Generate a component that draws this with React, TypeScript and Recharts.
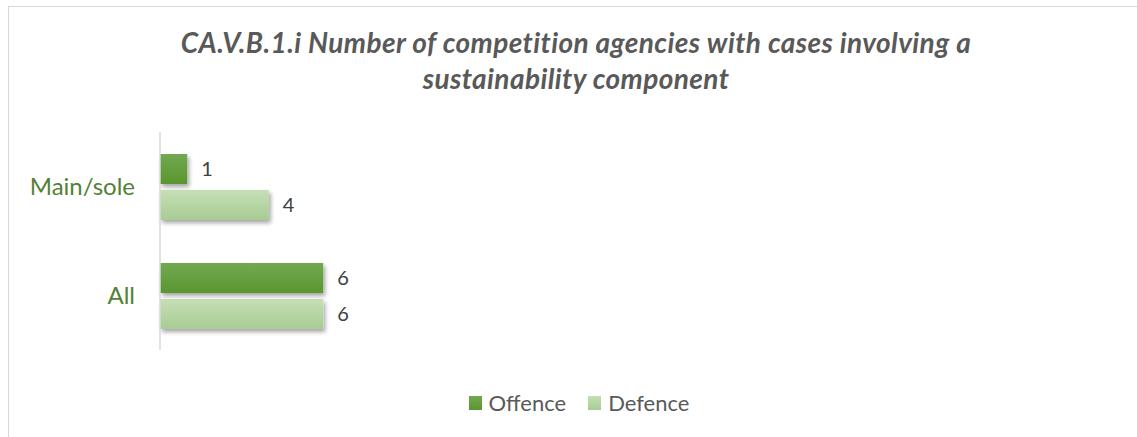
import React from 'react';
import { BarChart, Bar, XAxis, YAxis, LabelList, Legend } from 'recharts';

const categories = ['Main/sole', 'All'];
const offence = [1, 6];
const defence = [4, 6];
const seriesNames = ['Offence', 'Defence'];

const data = categories.map((name, i) => ({
  name,
  offence: offence[i],
  defence: defence[i],
}));

const FONT = 'Lato, "Open Sans", sans-serif';
const legendSwatches = [
  'linear-gradient(#72a852, #5a962f)',
  'linear-gradient(#c5dfb5, #a8cc94)',
];

const renderLegend = () => (
  <div
    style={{
      display: 'flex',
      justifyContent: 'center',
      alignItems: 'center',
      paddingLeft: 21,
      fontFamily: FONT,
      fontSize: 22,
      color: '#595959',
    }}
  >
    {seriesNames.map((n, i) => (
      <div key={n} style={{ display: 'flex', alignItems: 'center', marginRight: i === 0 ? 22 : 0 }}>
        <span style={{ width: 13, height: 14, background: legendSwatches[i], marginRight: 7 }} />
        <span>{n}</span>
      </div>
    ))}
  </div>
);

export default function App() {
  return (
    <div style={{ position: 'absolute', left: 0, top: 0, width: 1137, height: 437, background: '#fff' }}>
      <div
        style={{
          position: 'absolute',
          left: 8,
          top: 6,
          right: 0,
          bottom: 0,
          borderLeft: '1px solid #d9d9d9',
          borderTop: '1px solid #d9d9d9',
        }}
      />
      <div
        style={{
          position: 'absolute',
          left: 576 - 500,
          width: 1000,
          top: 24,
          textAlign: 'center',
          fontFamily: FONT,
          fontStyle: 'italic',
          fontWeight: 'bold',
          fontSize: 28,
          letterSpacing: 0.4,
          lineHeight: '36px',
          color: '#595959',
        }}
      >
        CA.V.B.1.i Number of competition agencies with cases involving a
        <br />
        sustainability component
      </div>
      <BarChart
        width={1137}
        height={437}
        data={data}
        layout="vertical"
        margin={{ top: 132, right: 25, bottom: 87, left: 0 }}
        barSize={30}
        barGap={6}
        style={{ position: 'absolute', left: 0, top: 0 }}
      >
        <defs>
          <linearGradient id="gOff" x1="0" y1="0" x2="0" y2="1">
            <stop offset="0%" stopColor="#72a852" />
            <stop offset="100%" stopColor="#5a962f" />
          </linearGradient>
          <linearGradient id="gDef" x1="0" y1="0" x2="0" y2="1">
            <stop offset="0%" stopColor="#c5dfb5" />
            <stop offset="100%" stopColor="#a8cc94" />
          </linearGradient>
          <filter id="shadow" x="-10%" y="-20%" width="130%" height="160%">
            <feDropShadow dx="2" dy="3" stdDeviation="2" floodColor="#000" floodOpacity="0.35" />
          </filter>
        </defs>
        <XAxis type="number" domain={[0, 35]} hide />
        <YAxis
          type="category"
          dataKey="name"
          width={160}
          tickLine={false}
          tickSize={0}
          tickMargin={25}
          axisLine={{ stroke: '#d9d9d9', strokeWidth: 1.5 }}
          tick={{ fill: '#538135', fontSize: 24, fontFamily: FONT }}
        />
        <Legend
          content={renderLegend}
          verticalAlign="middle"
          wrapperStyle={{ left: 0, width: 1137, top: 389 }}
        />
        <Bar
          dataKey="offence"
          name={seriesNames[0]}
          fill="url(#gOff)"
          style={{ filter: 'url(#shadow)' }}
          isAnimationActive={false}
        >
          <LabelList dataKey="offence" position="right" offset={14} fill="#404040" fontSize={20} fontFamily={FONT} />
        </Bar>
        <Bar
          dataKey="defence"
          name={seriesNames[1]}
          fill="url(#gDef)"
          style={{ filter: 'url(#shadow)' }}
          isAnimationActive={false}
        >
          <LabelList dataKey="defence" position="right" offset={14} fill="#404040" fontSize={20} fontFamily={FONT} />
        </Bar>
      </BarChart>
    </div>
  );
}
